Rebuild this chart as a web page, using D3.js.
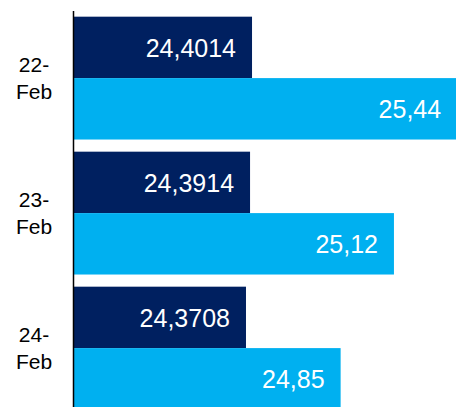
<!DOCTYPE html>
<html>
<head>
<meta charset="utf-8">
<script src="https://cdn.jsdelivr.net/npm/d3@7"></script>
<style>
  html, body { margin: 0; padding: 0; background: #fff; }
  svg { display: block; font-family: 'Liberation Sans', Arial, Helvetica, sans-serif; }
</style>
</head>
<body>
<div id="chart"></div>
<script>
const categories = ['22-Feb', '23-Feb', '24-Feb']
const seriesDark = [24.4014, 24.3914, 24.3708]
const seriesLight = [25.44, 25.12, 24.85]
const labelsDark = ['24,4014', '24,3914', '24,3708']
const labelsLight = ['25,44', '25,12', '24,85']

const width = 456
const height = 407
const colors = { dark: '#002060', light: '#00b0f0' }

const rows = categories.map((c, i) => ({
  cat: c,
  bars: [
    { key: 'dark', value: seriesDark[i], label: labelsDark[i] },
    { key: 'light', value: seriesLight[i], label: labelsLight[i] },
  ],
}))

const x = d3.scaleLinear().domain([23.5, 25.5]).range([74, 469])

const y = d3.scaleBand()
  .domain(categories)
  .range([10.6, 415.6])
  .paddingInner(0.09)
  .paddingOuter(0.045)

const ySub = d3.scaleBand()
  .domain(['dark', 'light'])
  .range([0, y.bandwidth()])

const svg = d3.select('#chart')
  .append('svg')
  .attr('width', width)
  .attr('height', height)

const groups = svg.append('g')
  .selectAll('g')
  .data(rows)
  .join('g')
  .attr('transform', (d) => `translate(0,${y(d.cat)})`)

groups.selectAll('rect')
  .data((d) => d.bars)
  .join('rect')
  .attr('x', x(23.5))
  .attr('y', (d) => ySub(d.key))
  .attr('width', (d) => x(d.value) - x(23.5))
  .attr('height', ySub.bandwidth())
  .attr('fill', (d) => colors[d.key])

groups.selectAll('text.val')
  .data((d) => d.bars)
  .join('text')
  .attr('class', 'val')
  .attr('x', (d) => x(d.value) - 16)
  .attr('y', (d) => ySub(d.key) + ySub.bandwidth() / 2)
  .attr('dy', '0.37em')
  .attr('text-anchor', 'end')
  .attr('font-size', 25)
  .attr('fill', '#fff')
  .text((d) => d.label)

// category labels, wrapped on the dash
const catLabels = svg.append('g')
  .selectAll('text')
  .data(categories)
  .join('text')
  .attr('text-anchor', 'middle')
  .attr('font-size', 21)
  .attr('fill', '#000')

catLabels.each(function (c) {
  const parts = [c.split('-')[0] + '-', c.split('-')[1]]
  const cy = y(c) + y.bandwidth() / 2
  d3.select(this).selectAll('tspan')
    .data(parts)
    .join('tspan')
    .attr('x', 34)
    .attr('y', (p, i) => cy - 5.7 + i * 26.6)
    .text((p) => p)
})

svg.append('line')
  .attr('x1', 73.5)
  .attr('x2', 73.5)
  .attr('y1', 11)
  .attr('y2', height)
  .attr('stroke', '#000')
  .attr('stroke-width', 1.5)
</script>
</body>
</html>
